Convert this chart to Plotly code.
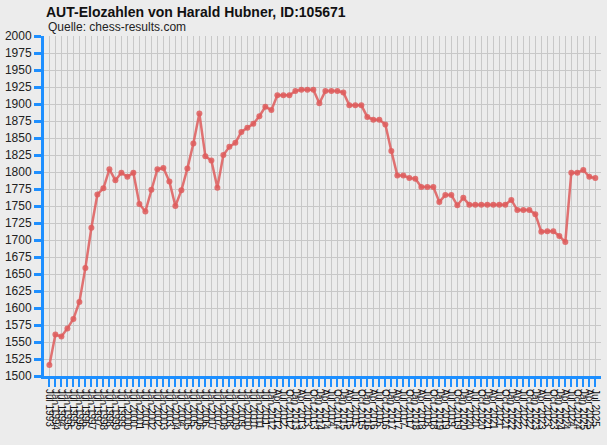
import plotly.graph_objects as go

title_text = "AUT-Elozahlen von Harald Hubner, ID:105671"
subtitle_text = "Quelle: chess-results.com"

dates = [
    "Jul 1993", "Jan 1994", "Jul 1994", "Jan 1995", "Jul 1995", "Jan 1996", "Jul 1996", "Jan 1997",
    "Jul 1997", "Jan 1998", "Jul 1998", "Jan 1999", "Jul 1999", "Jan 2000", "Jul 2000", "Jan 2001",
    "Jul 2001", "Jan 2002", "Jul 2002", "Jan 2003", "Jul 2003", "Jan 2004", "Jul 2004", "Jan 2005",
    "Jul 2005", "Jan 2006", "Jul 2006", "Jan 2007", "Jul 2007", "Jan 2008", "Jul 2008", "Jan 2009",
    "Jul 2009", "Jan 2010", "Jul 2010", "Jan 2011", "Jul 2011", "Jan 2012",
    "Apr 2012", "Jul 2012", "Oct 2012", "Jan 2013", "Apr 2013", "Jul 2013", "Oct 2013",
    "Jan 2014", "Apr 2014", "Jul 2014", "Oct 2014", "Jan 2015", "Apr 2015", "Jul 2015", "Oct 2015",
    "Jan 2016", "Apr 2016", "Jul 2016", "Oct 2016", "Jan 2017", "Apr 2017", "Jul 2017", "Oct 2017",
    "Jan 2018", "Apr 2018", "Jul 2018", "Oct 2018", "Jan 2019", "Apr 2019", "Jul 2019", "Oct 2019",
    "Jan 2020", "Apr 2020", "Jul 2020", "Oct 2020", "Jan 2021", "Apr 2021", "Jul 2021", "Oct 2021",
    "Jan 2022", "Apr 2022", "Jul 2022", "Oct 2022", "Jan 2023", "Apr 2023", "Jul 2023", "Oct 2023",
    "Jan 2024", "Apr 2024", "Jul 2024", "Oct 2024", "Jan 2025", "Apr 2025", "Jul 2025",
]

elo = [
    1516, 1561, 1558, 1570, 1584, 1609, 1659, 1718, 1767, 1776,
    1804, 1788, 1799, 1793, 1799, 1753, 1742, 1774, 1804, 1806,
    1786, 1750, 1773, 1805, 1842, 1886, 1823, 1817, 1777, 1825,
    1837, 1843, 1859, 1865, 1871, 1882, 1896, 1891, 1913, 1913,
    1913, 1919, 1921, 1921, 1921, 1901, 1919, 1919, 1919, 1917,
    1898, 1898, 1898, 1881, 1877, 1877, 1870, 1831, 1795, 1795,
    1791, 1790, 1778, 1778, 1778, 1756, 1766, 1766, 1751, 1762,
    1752, 1752, 1752, 1752, 1752, 1752, 1752, 1759, 1744, 1744,
    1744, 1738, 1712, 1713, 1713, 1706, 1697, 1799, 1799, 1803,
    1793, 1791,
]

y_ticks = list(range(1500, 2001, 25))

idx = list(range(len(dates)))
blue = "#1e8fff"
bg = "#ececec"

W, H = 607, 445

fig = go.Figure()
fig.add_trace(go.Scatter(
    x=idx, y=elo, mode="lines+markers",
    line=dict(color="rgba(222,92,92,0.85)", width=2.5),
    marker=dict(color="rgba(222,92,92,0.85)", size=6),
    hoverinfo="x+y", cliponaxis=False,
))

fig.update_layout(
    width=W, height=H,
    margin=dict(l=44, r=6, t=36, b=69, autoexpand=False),
    paper_bgcolor=bg, plot_bgcolor=bg,
    showlegend=False,
    font=dict(family="Liberation Sans, Arial, sans-serif", color="#111"),
    title=dict(text="<b>" + title_text + "</b>", x=46/W, xanchor="left",
               y=1 - 12/H, yanchor="middle",
               font=dict(size=14, color="#111", family="Liberation Sans, Arial, sans-serif")),
    annotations=[dict(text=subtitle_text, xref="paper", yref="paper",
                      x=2/557, y=1 + 9/340, xanchor="left", yanchor="middle",
                      showarrow=False, font=dict(size=12, color="#222"))],
)

fig.update_xaxes(
    range=[-0.9, 91.95], automargin=False,
    tickmode="array", tickvals=idx, ticktext=dates, tickangle=90,
    tickfont=dict(size=10, color="#111"),
    showgrid=True, gridcolor="#c8c8c8", gridwidth=1,
    showline=True, linecolor=blue, linewidth=3,
    ticks="outside", ticklen=8, tickwidth=2, tickcolor=blue,
    zeroline=False,
)
fig.update_yaxes(
    range=[1500, 2000], automargin=False,
    tickmode="array", tickvals=y_ticks, ticktext=[str(v) for v in y_ticks],
    tickfont=dict(size=12, color="#222"),
    showgrid=True, gridcolor="#c8c8c8", gridwidth=1,
    showline=True, linecolor=blue, linewidth=3,
    ticks="outside", ticklen=7, tickwidth=3, tickcolor=blue,
    zeroline=False,
)

fig.write_html(
    "out.html",
    config={"displayModeBar": False},
    post_script="document.body.style.margin='0';document.body.style.background='%s';" % bg,
)
